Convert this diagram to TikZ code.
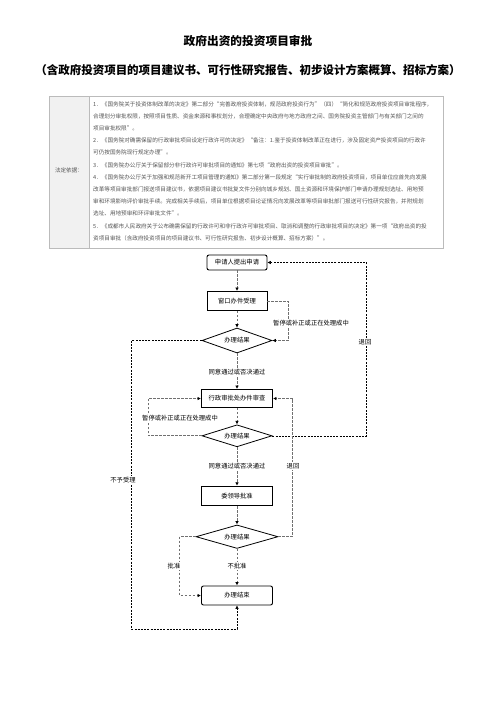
\documentclass[tikz,border=0pt]{standalone}
\usepackage{fontspec}
\setmainfont{Noto Sans CJK SC}
\usetikzlibrary{shapes.geometric,arrows.meta}
\XeTeXlinebreaklocale "zh"
\XeTeXlinebreakskip=0pt plus 1pt minus 0.1pt
\definecolor{txtgray}{HTML}{555555}
\definecolor{cellgray}{HTML}{F1F1F1}
\definecolor{tabgray}{HTML}{BBBBBB}
\definecolor{flowgray}{HTML}{707070}
\newcommand\fullline[1]{\hbox to 344pt{#1}}
\tikzset{
  tline/.style={anchor=west, inner sep=0pt, font=\fontsize{5.6}{6}\selectfont, text=txtgray},
  fbox/.style={draw, line width=0.9pt, inner sep=0pt, font=\fontsize{6.3}{7}\selectfont},
  rbox/.style={fbox, rounded corners=2pt},
  dia/.style={diamond, draw, line width=0.8pt, inner sep=0pt, aspect=2.8, font=\fontsize{6.3}{7}\selectfont},
  lab/.style={fill=white, inner sep=1pt, font=\fontsize{6.3}{7}\selectfont},
  flow/.style={draw=flowgray, line width=1pt, dash pattern=on 2.5pt off 1.5pt, -{Latex[length=3.5pt,width=3.5pt,color=black]}},
  longl/.style={draw=black, line width=0.6pt, dash pattern=on 2pt off 1.2pt, -{Latex[length=3.5pt,width=3.5pt,color=black]}}
}
\begin{document}
\begin{tikzpicture}[x=1pt,y=-1pt]
\useasboundingbox[fill=white] (0,0) rectangle (496,702);
% titles
\node (title) at (248,41) {\fontsize{11.7}{13}\selectfont\bfseries 政府出资的投资项目审批};
\node (subtitle) at (248,70) {\fontsize{11.5}{13}\selectfont\bfseries （含政府投资项目的项目建议书、可行性研究报告、初步设计方案概算、招标方案）};
% table
\fill[cellgray] (49,96) rectangle (89,248);
\draw[tabgray, line width=0.6pt] (49,96) rectangle (443,248);
\draw[tabgray, line width=0.6pt] (89,96) -- (89,248);
\node[tline, anchor=center] (basis) at (69,170) {法定依据：};
\node[tline] (t1) at (93,104.0) {\fullline{1．《国务院关于投资体制改革的决定》第二部分“完善政府投资体制，规范政府投资行为”（四）“简化和规范政府投资项目审批程序，}};
\node[tline] (t2) at (93,116.2) {\fullline{合理划分审批权限，按照项目性质、资金来源和事权划分，合理确定中央政府与地方政府之间、国务院投资主管部门与有关部门之间的}};
\node[tline] (t3) at (93,128.4) {项目审批权限”。};
\node[tline] (t4) at (93,140.6) {\fullline{2．《国务院对确需保留的行政审批项目设定行政许可的决定》“备注：1.鉴于投资体制改革正在进行，涉及固定资产投资项目的行政许}};
\node[tline] (t5) at (93,152.8) {可仍按国务院现行规定办理”。};
\node[tline] (t6) at (93,165.0) {3．《国务院办公厅关于保留部分非行政许可审批项目的通知》第七项“政府出资的投资项目审批”。};
\node[tline] (t7) at (93,177.2) {\fullline{4．《国务院办公厅关于加强和规范新开工项目管理的通知》第二部分第一段规定“实行审批制的政府投资项目，项目单位应首先向发展}};
\node[tline] (t8) at (93,189.4) {\fullline{改革等项目审批部门报送项目建议书，依据项目建议书批复文件分别向城乡规划、国土资源和环境保护部门申请办理规划选址、用地预}};
\node[tline] (t9) at (93,201.6) {\fullline{审和环境影响评价审批手续。完成相关手续后，项目单位根据项目论证情况向发展改革等项目审批部门报送可行性研究报告，并附规划}};
\node[tline] (t10) at (93,213.8) {选址、用地预审和环评审批文件”。};
\node[tline] (t11) at (93,226.0) {\fullline{5．《成都市人民政府关于公布确需保留的行政许可和非行政许可审批项目、取消和调整的行政审批项目的决定》第一项“政府出资的投}};
\node[tline] (t12) at (93,238.2) {资项目审批（含政府投资项目的项目建议书、可行性研究报告、初步设计概算、招标方案）”。};
% flowchart nodes
\node[rbox, minimum width=60pt, minimum height=15pt] (req) at (237,262.5) {申请人提出申请};
\node[fbox, minimum width=60pt, minimum height=19pt] (win) at (237,301) {窗口办件受理};
\node[dia, minimum width=70pt, minimum height=25pt] (d1) at (237,340.5) {办理结果};
\node[fbox, minimum width=71pt, minimum height=18pt] (rev) at (237,398.5) {行政审批处办件审查};
\node[dia, minimum width=70pt, minimum height=22pt] (d2) at (237,435.8) {办理结果};
\node[fbox, minimum width=71pt, minimum height=19.5pt] (lead) at (237,496) {委领导批准};
\node[dia, minimum width=82pt, minimum height=23.5pt] (d3) at (237,536.7) {办理结果};
\node[rbox, minimum width=71pt, minimum height=19pt] (end) at (237,595.5) {办理结束};
\coordinate (L1) at (131.5,629);
\coordinate (R1) at (366.5,435.8);
% connectors
\draw[flow] (req) -- (win);
\draw[flow] (win) -- (d1);
\draw[flow] (win.east) -- ++(21,0) |- (d1.east);
\draw[longl] (d1.west) -| (L1) -| (end.south);
\draw[flow] (d1.south) -- (rev.north);
\draw[flow] (rev) -- (d2);
\draw[flow] (d2.west) -- ++(-53.5,0) |- (rev.west);
\draw[longl] (d2.east) -- (R1) |- (req.east);
\draw[flow] (d2.south) -- (lead.north);
\draw[flow] (lead) -- (d3);
\draw[flow] (d3.east) -- ++(14,0) |- (rev.east);
\draw[flow] (d3.west) -- ++(-16,0) |- (end.west);
\draw[flow] (d3.south) -- (end.north);
% labels
\node[lab] (lpause1) at (311,323) {暂停或补正或正在处理成中};
\node[lab] (lreject) at (123,480) {不予受理};
\node[lab] (lback1) at (365,342) {退回};
\node[lab] (lpass1) at (237,372) {同意通过或否决通过};
\node[lab] (lpause2) at (180,418) {暂停或补正或正在处理成中};
\node[lab] (lpass2) at (237,466) {同意通过或否决通过};
\node[lab] (lback2) at (293,466) {退回};
\node[lab] (lok) at (174,566) {批准};
\node[lab] (lno) at (237,566) {不批准};
\end{tikzpicture}
\end{document}
